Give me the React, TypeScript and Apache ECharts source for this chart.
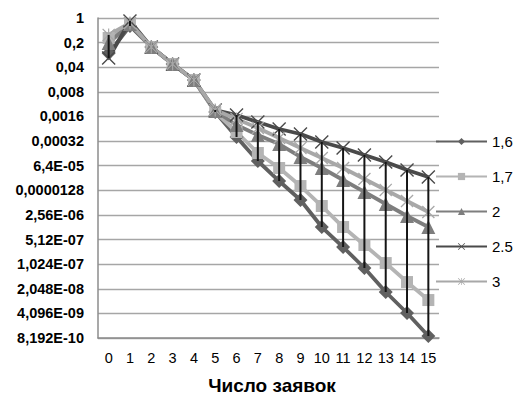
import React, { useEffect, useRef } from "react";
import * as echarts from "echarts";

const categories = ["0", "1", "2", "3", "4", "5", "6", "7", "8", "9", "10", "11", "12", "13", "14", "15"];
const seriesNames = ["1,6", "1,7", "2", "2.5", "3"];
const yTickLabels = [
  "1", "0,2", "0,04", "0,008", "0,0016", "0,00032", "6,4E-05", "0,0000128",
  "2,56E-06", "5,12E-07", "1,024E-07", "2,048E-08", "4,096E-09", "8,192E-10",
];
const xTitle = "Число заявок";

const s16 = [0.1, 0.593, 0.15, 0.0494, 0.0174, 0.00214, 4.18e-4, 8.7e-5, 2.35e-5, 6.8e-6, 1.16e-6, 3.14e-7, 7.96e-8, 1.66e-8, 4.2e-9, 9.33e-10];
const s17 = [0.27, 0.676, 0.15, 0.0494, 0.0174, 0.00214, 5.79e-4, 1.47e-4, 5.5e-5, 1.69e-5, 4.58e-6, 1.16e-6, 3.58e-7, 1.1e-7, 3.18e-8, 9.8e-9];
const s2 = [0.195, 0.676, 0.15, 0.0494, 0.0174, 0.00229, 9.16e-4, 4.76e-4, 2.64e-4, 1.13e-4, 5.5e-5, 2.51e-5, 1.15e-5, 5.23e-6, 2.39e-6, 1.16e-6];
const s25 = [0.0731, 0.822, 0.15, 0.0494, 0.0174, 0.00244, 1.76e-3, 1.11e-3, 7.05e-4, 5.08e-4, 3.01e-4, 2.04e-4, 1.29e-4, 8.15e-5, 4.83e-5, 3.06e-5];
const s3 = [0.33, 0.721, 0.15, 0.0494, 0.0174, 0.00244, 1.36e-3, 7.52e-4, 3.91e-4, 2.04e-4, 1.06e-4, 5.5e-5, 2.68e-5, 1.31e-5, 6.37e-6, 3.1e-6];

const allSeries = [s16, s17, s2, s25, s3];
const colors = ["#606060", "#b4b4b4", "#7e7e7e", "#4a4a4a", "#a8a8a8"];

const X_PATH = "path://M0,0.7L0.7,0L5,4.3L9.3,0L10,0.7L5.7,5L10,9.3L9.3,10L5,5.7L0.7,10L0,9.3L4.3,5Z";
const STAR_PATH = X_PATH + "M4.55,0L5.45,0L5.45,10L4.55,10Z";
const symbols = ["diamond", "rect", "triangle", X_PATH, STAR_PATH];
const symbolSizes = [14, 12, 14, 14, 13];

const FONT = "'Liberation Sans', Arial, sans-serif";
const log5 = (v: number) => Math.log(v) / Math.log(5);

export default function App() {
  const ref = useRef<HTMLDivElement>(null);
  useEffect(() => {
    if (!ref.current) return;
    const chart = echarts.init(ref.current, undefined, { renderer: "svg" });
    const hiLo = categories.map((_, i) => {
      const vals = allSeries.map((s) => log5(s[i]));
      return [i, Math.min(...vals), Math.max(...vals)];
    });
    const lineSeries = allSeries.map((s, k) => ({
      name: seriesNames[k],
      type: "line",
      data: s.map((v) => log5(v)),
      symbol: symbols[k],
      symbolSize: symbolSizes[k],
      showAllSymbol: true,
      lineStyle: { color: colors[k], width: 3.8 },
      itemStyle: { color: colors[k] },
      z: 2,
    }));
    chart.setOption({
      animation: false,
      textStyle: { fontFamily: FONT },
      grid: { left: 98, top: 18, width: 341, height: 320, containLabel: false },
      xAxis: {
        type: "category",
        data: categories,
        boundaryGap: true,
        axisLine: { onZero: false, lineStyle: { color: "#8c8c8c", width: 1.5 } },
        axisTick: { show: false },
        axisLabel: { color: "#000", fontSize: 14.5, fontFamily: FONT, margin: 12, lineHeight: 15, interval: 0 },
        splitLine: { show: false },
      },
      yAxis: {
        type: "value",
        min: -13,
        max: 0,
        interval: 1,
        axisLine: { show: true, lineStyle: { color: "#8c8c8c", width: 1.5 } },
        axisTick: { show: false },
        axisLabel: {
          color: "#000",
          fontSize: 14.5,
          fontWeight: "bold",
          fontFamily: FONT,
          margin: 14,
          formatter: (val: number) => yTickLabels[-Math.round(val)] ?? "",
        },
        splitLine: { show: true, lineStyle: { color: "#a6a6a6", width: 1.3 } },
      },
      legend: {
        data: seriesNames,
        orient: "vertical",
        left: 430,
        top: 129,
        padding: 5,
        itemWidth: 51,
        itemHeight: 9,
        itemGap: 20,
        textStyle: { color: "#000", fontSize: 15, fontFamily: FONT, lineHeight: 14 },
      },
      graphic: [
        {
          type: "text",
          x: 272,
          y: 385,
          style: {
            text: xTitle,
            fontSize: 19,
            fontWeight: "bold",
            fontFamily: FONT,
            fill: "#000",
            textAlign: "center",
            textVerticalAlign: "middle",
          },
        },
      ],
      series: [
        ...lineSeries,
        {
          type: "custom",
          name: "hilo",
          data: hiLo,
          encode: { x: 0, y: [1, 2] },
          z: 5,
          renderItem: (params: any, api: any) => {
            const x = api.value(0);
            const a = api.coord([x, api.value(1)]);
            const b = api.coord([x, api.value(2)]);
            return {
              type: "line",
              shape: { x1: a[0], y1: a[1], x2: b[0], y2: b[1] },
              style: { stroke: "#151515", lineWidth: 2 },
            };
          },
        },
      ],
    });
    return () => chart.dispose();
  }, []);
  return (
    <div
      ref={ref}
      style={{ position: "fixed", left: 0, top: 0, width: 517, height: 395, background: "#fff" }}
    />
  );
}
